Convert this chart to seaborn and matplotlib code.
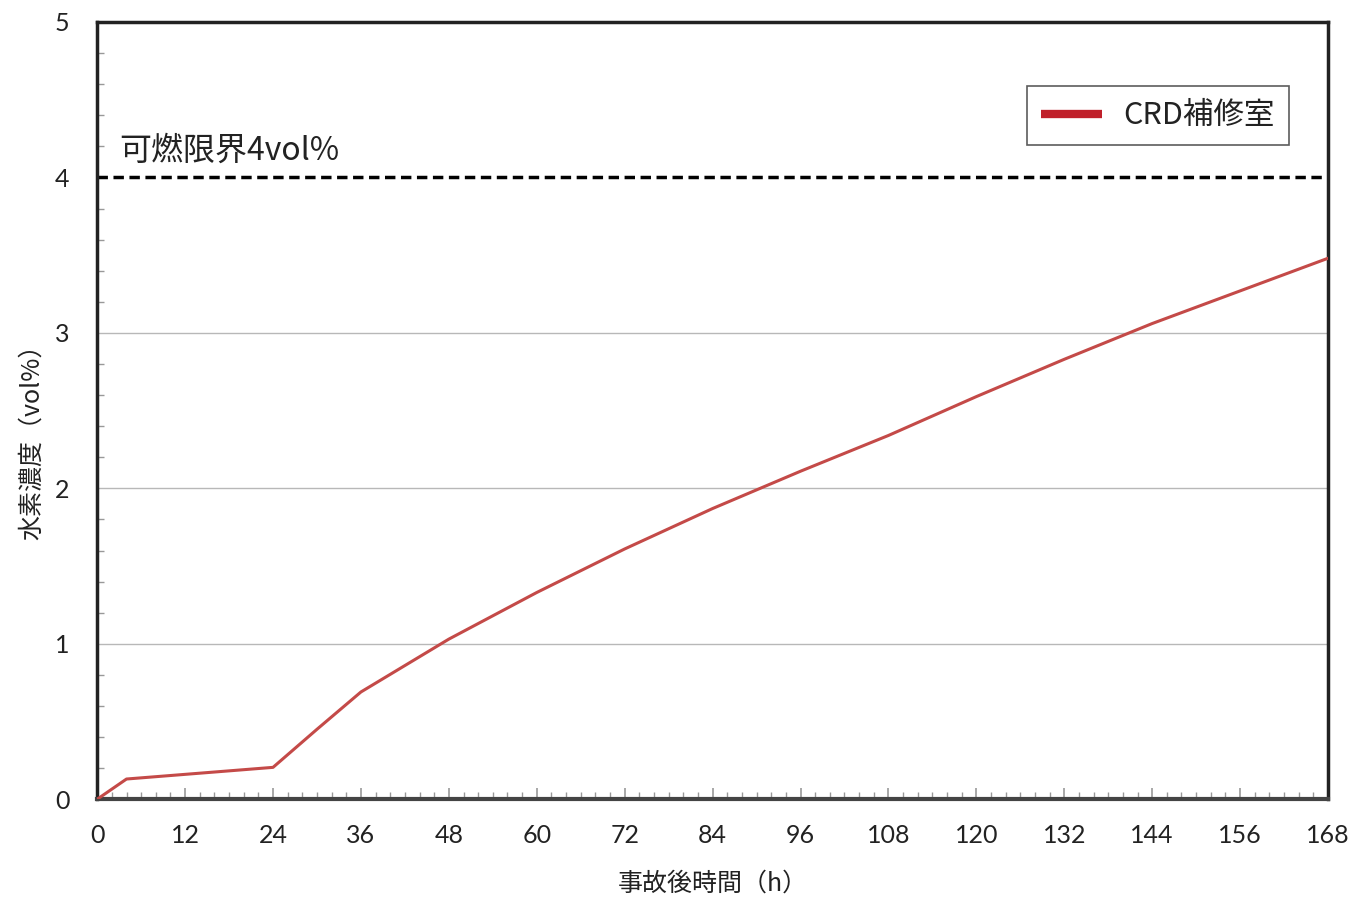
import numpy as np
import pandas as pd
import seaborn as sns
import matplotlib.pyplot as plt
from matplotlib.lines import Line2D
from matplotlib.ticker import MultipleLocator

sns.set_style("white")
plt.rcParams['font.family'] = ['Noto Sans CJK JP', 'DejaVu Sans']

# data
hours = [0, 4, 24, 30, 36, 48, 60, 72, 84, 96, 108, 120, 132, 144, 156, 168]
h2_conc = [0.0, 0.13, 0.205, 0.45, 0.69, 1.03, 1.33, 1.61, 1.87, 2.11, 2.34, 2.59, 2.83, 3.06, 3.27, 3.48]
series_name = "CRD補修室"
limit = 4.0
limit_label = "可燃限界4vol%"

df = pd.DataFrame({"time": hours, "conc": h2_conc})

fig = plt.figure(figsize=(13.5, 8.97), dpi=100)
ax = fig.add_axes([0.072, 0.109, 0.9117, 0.8665])

for yv in [1, 2, 3]:
    ax.axhline(yv, color="#b8b8b8", lw=1.0, zorder=1)
ax.axhline(limit, color="black", lw=2.5, ls=(0, (3, 1.6)), zorder=2)

sns.lineplot(data=df, x="time", y="conc", color="#c44a48", lw=2.2, ax=ax, zorder=3)

ax.set_xlim(0, 168)
ax.set_ylim(0, 5)
ax.xaxis.set_major_locator(MultipleLocator(12))
ax.xaxis.set_minor_locator(MultipleLocator(2))
ax.yaxis.set_major_locator(MultipleLocator(1))
ax.yaxis.set_minor_locator(MultipleLocator(0.2))
ax.tick_params(axis="both", which="both", direction="in", colors="#999999",
               labelcolor="#222222", labelsize=18, bottom=True, left=True)
ax.tick_params(axis="x", which="major", length=8, width=1.2, pad=18)
ax.tick_params(axis="x", which="minor", length=5, width=1.0)
ax.tick_params(axis="y", which="major", length=0, pad=20)
ax.tick_params(axis="y", which="minor", length=5, width=1.0)
for lab in ax.get_xticklabels() + ax.get_yticklabels():
    lab.set_family(['Lato', 'DejaVu Sans'])

for side in ["left", "top", "right"]:
    ax.spines[side].set_color("#222222")
    ax.spines[side].set_linewidth(2.5)
ax.spines["bottom"].set_color("#444444")
ax.spines["bottom"].set_linewidth(3)

ax.set_xlabel("事故後時間（h）", fontsize=18, color="#222222", va="center", ha="center")
ax.set_ylabel("水素濃度（vol%）", fontsize=18, color="#222222", va="center", ha="center")
ax.xaxis.set_label_coords(0.5, -0.108)
ax.yaxis.set_label_coords(-0.053, 0.468)

ax.text(3.0, limit + 0.17, limit_label, fontsize=23, color="#222222", va="center")

handle = Line2D([], [], color="#c0202a", lw=6, solid_capstyle="butt")
leg = ax.legend([handle], [series_name], loc="upper right", bbox_to_anchor=(0.968, 0.917),
                fontsize=22, frameon=True, fancybox=False, handlelength=2.0,
                borderpad=0.45, handletextpad=0.7, borderaxespad=0)
leg.get_frame().set_edgecolor("#333333")
leg.get_frame().set_linewidth(1.2)
for t in leg.get_texts():
    t.set_color("#222222")

plt.savefig("out.png", dpi=100)
